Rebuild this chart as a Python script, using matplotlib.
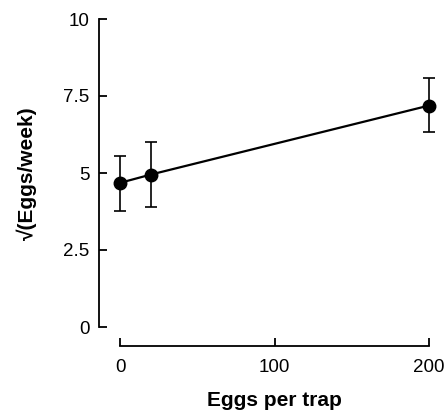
import matplotlib
matplotlib.use("Agg")
import matplotlib.pyplot as plt

# data
eggs_per_trap = [0, 20, 200]
sqrt_eggs = [4.68, 4.95, 7.19]
err_low = [3.77, 3.9, 6.33]
err_high = [5.55, 6.0, 8.07]

x_ticks = [0, 100, 200]
y_ticks = [0, 2.5, 5, 7.5, 10]
y_ticklabels = ["0", "2.5", "5", "7.5", "10"]

plt.rcParams['font.family'] = ['Liberation Sans', 'DejaVu Sans']

fig = plt.figure(figsize=(4.46, 4.15), dpi=100)
ax = fig.add_axes([120 / 446, 88 / 415, 309 / 446, 308 / 415])

yerr = [[v - lo for v, lo in zip(sqrt_eggs, err_low)],
        [hi - v for v, hi in zip(sqrt_eggs, err_high)]]
ax.errorbar(eggs_per_trap, sqrt_eggs, yerr=yerr, fmt='o-', color='black',
            markersize=9, linewidth=1.6, elinewidth=1.2, capsize=4.5,
            capthick=1.2, clip_on=False, zorder=3)

ax.set_xlim(0, 200)
ax.set_ylim(0, 10)
ax.set_xticks(x_ticks)
ax.set_yticks(y_ticks)
ax.set_yticklabels(y_ticklabels)

for s in ['top', 'right']:
    ax.spines[s].set_visible(False)
ax.spines['left'].set_position(('outward', 21 * 0.72))
ax.spines['bottom'].set_position(('outward', 19 * 0.72))
ax.spines['left'].set_bounds(0, 10)
ax.spines['bottom'].set_bounds(0, 200)
ax.spines['left'].set_linewidth(1.3)
ax.spines['bottom'].set_linewidth(1.3)

ax.tick_params(axis='both', direction='in', length=5.5, width=1.3,
               labelsize=13.5, colors='black')
ax.tick_params(axis='y', pad=7)
ax.tick_params(axis='x', pad=9)

ax.set_xlabel('Eggs per trap', fontsize=15, fontweight='bold', labelpad=11)
ax.set_ylabel('√(Eggs/week)', fontsize=15, fontweight='bold', labelpad=19)

fig.savefig('out.png', dpi=100)
